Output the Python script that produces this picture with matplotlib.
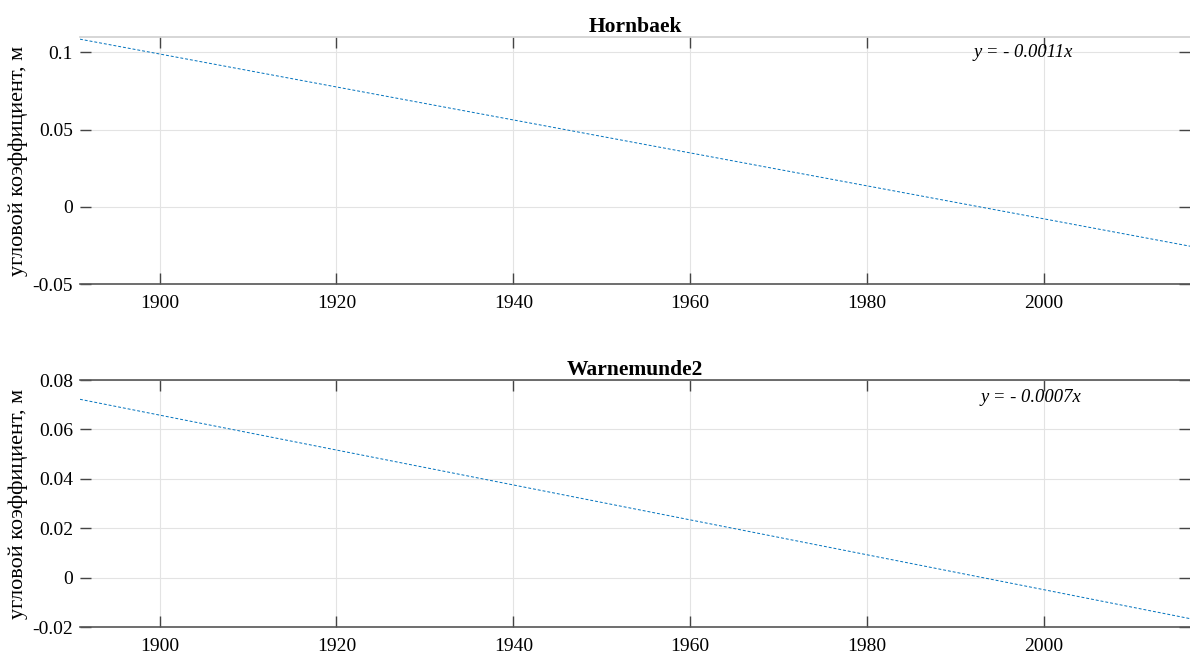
import matplotlib
matplotlib.use("Agg")
import matplotlib.pyplot as plt

plt.rcParams['font.family'] = ['Liberation Serif', 'DejaVu Serif']

# Data (straight trend lines)
years_hornbaek = [1891, 1900, 2000, 2016.5]
trend_hornbaek = [0.1086, 0.099, -0.0078, -0.0255]
years_warn = [1891, 1900, 2000, 2016.5]
trend_warn = [0.0722, 0.0658, -0.0049, -0.0166]

titles = ["Hornbaek", "Warnemunde2"]
equations = ["y = - 0.0011x", "y = - 0.0007x"]
xticks = [1900, 1920, 1940, 1960, 1980, 2000]
yticks_top = [-0.05, 0, 0.05, 0.1]
yticks_bottom = [-0.02, 0, 0.02, 0.04, 0.06, 0.08]
ylabel = "угловой коэффициент, м"

fig = plt.figure(figsize=(11.9, 6.55), dpi=100)
ax1 = fig.add_axes([0.0672, 0.5664, 0.9328, 0.3771])
ax2 = fig.add_axes([0.0672, 0.0427, 0.9328, 0.3771])

line_color = '#0072BD'
configs = [
    (ax1, years_hornbaek, trend_hornbaek, (-0.05, 0.11), yticks_top,
     ['-0.05', '0', '0.05', '0.1'], '#d0d0d0', (0.850, 0.919)),
    (ax2, years_warn, trend_warn, (-0.02, 0.08), yticks_bottom,
     ['-0.02', '0', '0.02', '0.04', '0.06', '0.08'], '#555555', (0.857, 0.911)),
]
for i, (ax, xs, ys, ylim, yt, ytl, topcol, tpos) in enumerate(configs):
    ax.plot(xs, ys, linestyle=(0, (3, 2)), color=line_color, linewidth=0.7)
    ax.set_xlim(1891, 2016.5)
    ax.set_ylim(*ylim)
    ax.set_xticks(xticks)
    ax.set_xticklabels([str(t) for t in xticks])
    ax.set_yticks(yt)
    ax.set_yticklabels(ytl)
    ax.grid(True, color='#e3e3e3', linewidth=0.8)
    ax.set_axisbelow(True)
    ax.tick_params(direction='in', length=8, width=1.0, color='#444444',
                   labelsize=14, top=True, right=True, pad=5)
    ax.tick_params(axis='x', pad=8)
    for s in ['left', 'right']:
        ax.spines[s].set_visible(False)
    ax.spines['bottom'].set_color('#555555')
    ax.spines['bottom'].set_linewidth(1.2)
    ax.spines['top'].set_color(topcol)
    ax.spines['top'].set_linewidth(1.2)
    ax.set_ylabel(ylabel, fontsize=16, labelpad=3)
    ax.set_title(titles[i], fontsize=15.5, fontweight='bold', pad=3.5)
    ax.text(tpos[0], tpos[1], equations[i], transform=ax.transAxes,
            ha='center', va='baseline', fontsize=13.4, style='italic')

fig.savefig("out.png", dpi=100)
